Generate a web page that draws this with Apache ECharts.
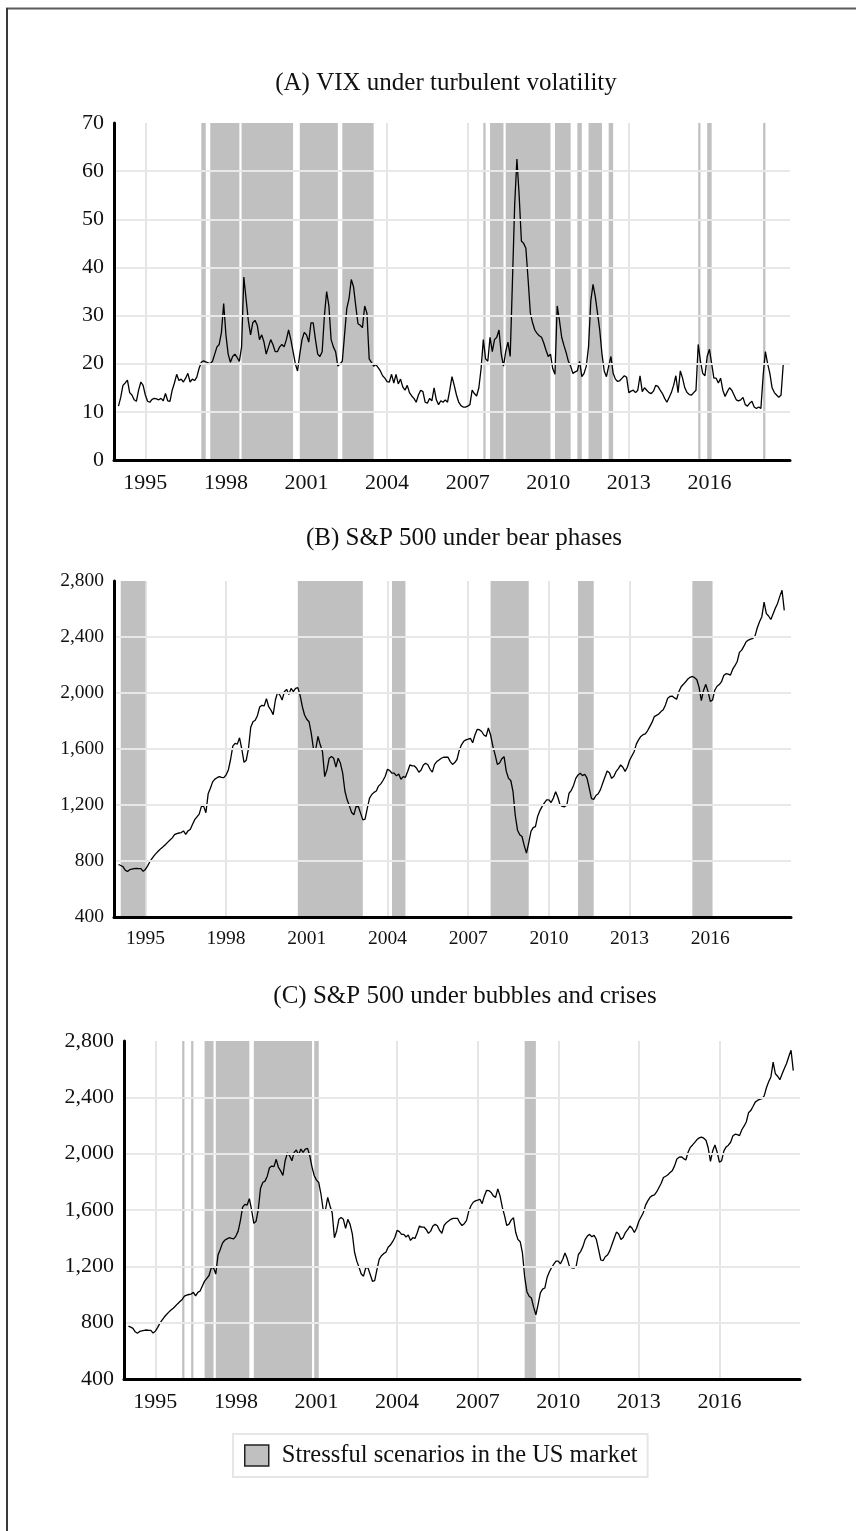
<!DOCTYPE html>
<html lang="en">
<head>
<meta charset="UTF-8">
<title>VIX and S&amp;P 500 under stressful scenarios</title>
<script src="https://cdn.jsdelivr.net/npm/echarts@6/dist/echarts.min.js"></script>
<style>
  html, body { margin: 0; padding: 0; background: #fff; }
  #chart { width: 856px; height: 1531px; }
</style>
</head>
<body>
<div id="chart"></div>
<script>
// x axis: one category per month, 1993-11 .. 2019-01
const months = [];
for (let y = 1993; y <= 2019; y++) {
  for (let m = 1; m <= 12; m++) {
    const key = y + '-' + (m < 10 ? '0' + m : m);
    if (key >= '1993-11' && key <= '2019-01') months.push(key);
  }
}
const firstMonth = '1994-01';
const yearTicks = [1995, 1998, 2001, 2004, 2007, 2010, 2013, 2016];

// monthly VIX, 1994-01 .. 2018-10
const vix = [
  11.2, 13.0, 15.5, 16.0, 16.6, 14.0, 13.5, 12.5, 12.2, 14.5, 16.2, 15.5,
  13.5, 12.2, 12.0, 12.6, 12.8, 12.7, 12.5, 12.8, 12.3, 13.8, 12.3, 12.2,
  14.5, 16.0, 17.8, 16.5, 16.8, 16.2, 17.0, 18.0, 16.2, 16.8, 16.5, 17.2,
  19.0, 20.3, 20.6, 20.4, 20.2, 20.0, 20.5, 22.0, 23.5, 24.0, 26.5, 32.5,
  26.0, 22.0, 20.3, 21.5, 22.0, 21.3, 20.5, 23.5, 38.0, 33.5, 29.0, 26.0,
  28.5, 29.0, 28.0, 25.0, 26.0, 24.5, 22.0, 23.5, 25.0, 24.0, 22.5, 22.5,
  23.5, 24.0, 23.5, 25.0, 27.0, 25.0, 22.5, 20.0, 18.5, 22.0, 25.0, 26.5,
  26.0, 24.5, 28.5, 28.5, 25.0, 22.0, 21.5, 22.5, 30.0, 35.0, 32.0, 25.0,
  23.5, 22.5, 19.5, 20.0, 20.5, 26.0, 31.5, 33.5, 37.5, 36.0, 32.0, 28.3,
  28.0, 27.5, 32.0, 30.5, 21.0, 20.3, 19.5, 19.8, 19.2, 18.5, 17.5, 17.0,
  16.3, 16.2, 17.8, 16.0, 17.8, 15.8, 16.8, 15.2, 14.5, 15.5, 14.0, 13.3,
  12.8, 12.0, 13.5, 14.5, 14.2, 12.0, 11.8, 12.8, 12.3, 15.0, 12.5, 11.5,
  12.3, 12.0, 12.5, 12.0, 14.5, 17.3, 15.5, 13.5, 12.0, 11.3, 11.0, 11.0,
  11.2, 11.5, 14.5, 13.8, 13.3, 15.0, 19.0, 25.0, 21.0, 20.5, 25.5, 22.5,
  25.0, 25.5, 27.0, 22.0, 19.5, 22.5, 24.5, 21.5, 37.0, 53.0, 62.5, 55.0,
  45.5, 45.0, 44.0, 37.5, 30.5, 28.5, 27.0, 26.3, 25.8, 25.5, 24.3, 22.8,
  21.5, 22.0, 19.0, 17.8, 32.0, 29.0, 25.5, 23.8, 22.3, 20.5, 19.5, 18.0,
  18.3, 18.5, 20.5, 17.3, 18.0, 19.5, 23.5, 33.0, 36.5, 34.0, 30.5, 27.0,
  22.0, 18.5, 17.3, 19.5, 21.5, 18.0, 16.8, 16.3, 16.5, 17.0, 17.5, 17.2,
  14.0, 14.3, 14.5, 14.0, 14.5, 17.5, 14.2, 15.0, 14.5, 14.0, 13.8, 14.3,
  15.5, 15.3, 14.5, 13.8, 12.8, 12.0, 13.0, 14.0, 15.5, 17.5, 14.0, 18.5,
  17.0, 15.0, 14.0, 13.6, 13.5, 14.0, 14.5, 24.0, 20.5, 18.0, 17.5, 21.5,
  23.0, 20.0, 17.0, 17.0, 16.0, 17.0, 14.5, 13.2, 14.2, 15.0, 14.5, 13.5,
  12.5, 12.3, 12.5, 13.0, 11.5, 11.2, 11.8, 12.2, 11.0, 10.7, 11.0, 10.7,
  17.5, 22.5, 20.0, 18.0, 15.0, 14.0, 13.5, 13.0, 13.5, 20.0
];

// monthly S&P 500, 1994-01 .. 2018-10
const sp500 = [
  775, 768, 760, 735, 725, 738, 742, 745, 748, 745, 745, 726,
  740, 765, 795, 818, 840, 858, 875, 890, 903, 918, 935, 950,
  965, 988, 996, 1000, 1003, 1015, 990, 1015, 1025, 1060, 1095, 1115,
  1135, 1190, 1190, 1145, 1280, 1320, 1365, 1385, 1395, 1403, 1398, 1395,
  1415, 1450, 1525, 1620, 1640, 1635, 1680, 1600, 1505, 1520, 1605, 1755,
  1795, 1805, 1840, 1900, 1912, 1908, 1960, 1902, 1878, 1845, 1950, 2005,
  1985, 1950, 2009, 2026, 1990, 2033, 2010, 2033, 2038, 1985, 1905, 1843,
  1812, 1795, 1712, 1598, 1600, 1690, 1630, 1581, 1403, 1451, 1534, 1546,
  1534, 1470, 1534, 1498, 1430, 1300, 1237, 1194, 1146, 1130, 1190, 1189,
  1142, 1094, 1099, 1177, 1249, 1275, 1290, 1300, 1335, 1351, 1375, 1405,
  1455, 1446, 1427, 1427, 1408, 1422, 1384, 1403, 1398, 1439, 1486, 1479,
  1479, 1462, 1434, 1450, 1486, 1498, 1488, 1455, 1435, 1490, 1510, 1522,
  1534, 1541, 1541, 1541, 1510, 1490, 1503, 1525, 1590, 1630, 1655, 1665,
  1670, 1676, 1645, 1700, 1740, 1738, 1725, 1700, 1690, 1750, 1700, 1620,
  1560, 1490, 1500, 1530, 1545, 1440, 1390, 1375, 1295, 1125, 1020, 987,
  975, 910, 856, 930, 1012, 1038, 1046, 1120, 1160, 1190, 1215, 1237,
  1237, 1218, 1250, 1295, 1255, 1200, 1190, 1187, 1200, 1284, 1305, 1340,
  1390, 1415, 1427, 1410, 1420, 1392, 1320, 1245, 1240, 1268, 1280, 1310,
  1355, 1400, 1443, 1430, 1390, 1405, 1440, 1460, 1486, 1470, 1440, 1470,
  1520, 1550, 1580, 1635, 1665, 1690, 1702, 1708, 1730, 1760, 1790, 1831,
  1840, 1850, 1867, 1880, 1915, 1962, 1975, 1978, 1965, 1955, 2010, 2045,
  2062, 2080, 2100, 2112, 2118, 2110, 2095, 2040, 1945, 2020, 2062, 2010,
  1940, 1950, 2020, 2048, 2060, 2081, 2125, 2138, 2135, 2128, 2170, 2195,
  2225, 2290, 2306, 2335, 2366, 2378, 2385, 2390, 2410, 2468, 2510, 2545,
  2650, 2567, 2550, 2525, 2565, 2605, 2640, 2690, 2734, 2590
];

// shaded stress periods [from, to] per panel
const stressVol = [
  ['1997-02', '1997-04'], ['1997-06', '1998-07'], ['1998-08', '2000-07'],
  ['2000-10', '2002-03'], ['2002-05', '2003-07'], ['2007-08', '2007-09'],
  ['2007-11', '2008-05'], ['2008-06', '2010-02'], ['2010-04', '2010-11'],
  ['2011-02', '2011-04'], ['2011-07', '2012-01'], ['2012-04', '2012-06'],
  ['2015-08', '2015-09'], ['2015-12', '2016-02'], ['2018-01', '2018-02']
];
const stressBear = [
  ['1994-02', '1995-01'], ['2000-09', '2003-02'], ['2004-03', '2004-09'],
  ['2007-11', '2009-04'], ['2011-02', '2011-09'], ['2015-05', '2016-02']
];
const stressBubble = [
  ['1996-01', '1996-02'], ['1996-05', '1996-06'], ['1996-11', '1997-03'],
  ['1997-04', '1998-07'], ['1998-09', '2000-11'], ['2000-12', '2001-02'],
  ['2008-10', '2009-03']
];

const titles = [
  '(A) VIX under turbulent volatility',
  '(B) S&P 500 under bear phases',
  '(C) S&P 500 under bubbles and crises'
];
const legendName = 'Stressful scenarios in the US market';

const FONT = 'Liberation Serif';
const TEXT = '#111';

const offset = months.indexOf(firstMonth);
function onMonths(arr) {
  return months.map((m, i) => (i >= offset && i - offset < arr.length) ? arr[i - offset] : null);
}
function isYearTick(i, v) {
  return v.slice(5) === '01' && yearTicks.indexOf(+v.slice(0, 4)) >= 0;
}

const panels = [
  { grid: { left: 114, top: 123, width: 676, height: 337 }, series: vix, bands: stressVol,
    min: 0, max: 70, step: 10, font: 22, fmt: v => String(v), title: [441, 66] },
  { grid: { left: 114, top: 581, width: 677, height: 336 }, series: sp500, bands: stressBear,
    min: 400, max: 2800, step: 400, font: 19.5, fmt: v => v.toLocaleString('en-US'), title: [459, 521] },
  { grid: { left: 124, top: 1041, width: 676, height: 338 }, series: sp500, bands: stressBubble,
    min: 400, max: 2800, step: 400, font: 22, fmt: v => v.toLocaleString('en-US'), title: [460, 979] }
];

const option = {
  backgroundColor: '#fff',
  animation: false,
  title: panels.map((p, i) => ({
    text: titles[i],
    left: p.title[0],
    top: p.title[1],
    textAlign: 'center',
    textStyle: { fontFamily: FONT, fontSize: 25, fontWeight: 'normal', color: TEXT }
  })),
  legend: {
    data: [legendName],
    left: 233,
    top: 1434,
    padding: [9, 10, 9, 11],
    borderColor: '#e6e6e6',
    borderWidth: 2,
    icon: 'rect',
    itemWidth: 24,
    itemHeight: 21,
    itemStyle: { color: '#c0c0c0', borderColor: '#222', borderWidth: 1.5 },
    textStyle: { fontFamily: FONT, fontSize: 24.5, color: TEXT, padding: [0, 0, 0, 8] }
  },
  grid: panels.map(p => p.grid),
  xAxis: panels.map((p, i) => ({
    type: 'category',
    gridIndex: i,
    data: months,
    boundaryGap: false,
    position: 'bottom',
    axisLine: { show: false },
    axisTick: { show: false },
    axisLabel: {
      interval: isYearTick,
      formatter: v => v.slice(0, 4),
      fontFamily: FONT, fontSize: p.font, color: TEXT, margin: 12
    },
    splitLine: { show: true, interval: isYearTick, lineStyle: { color: '#e5e5e5', width: 2 } }
  })).concat(panels.map((p, i) => ({
    // black baseline drawn above the shading
    type: 'category',
    gridIndex: i,
    data: months,
    boundaryGap: false,
    position: 'bottom',
    z: 10,
    axisLine: { show: true, lineStyle: { color: '#000', width: 3 } },
    axisTick: { show: false },
    axisLabel: { show: false },
    splitLine: { show: false }
  }))),
  yAxis: panels.map((p, i) => ({
    type: 'value',
    gridIndex: i,
    min: p.min,
    max: p.max,
    interval: p.step,
    z: 10,
    axisLine: { show: true, lineStyle: { color: '#000', width: 3 } },
    axisTick: { show: false },
    axisLabel: { fontFamily: FONT, fontSize: p.font, color: TEXT, margin: 10, formatter: p.fmt },
    splitLine: { show: true, showMaxLine: false, lineStyle: { color: '#e8e8e8', width: 2 } }
  })),
  series: [],
  graphic: [
    { type: 'line', shape: { x1: 6, y1: 8.5, x2: 856, y2: 8.5 }, style: { stroke: '#5a5a5a', lineWidth: 2 } },
    { type: 'line', shape: { x1: 7, y1: 8, x2: 7, y2: 1531 }, style: { stroke: '#3a3a3a', lineWidth: 2 } }
  ]
};

panels.forEach((p, i) => {
  option.series.push({
    name: legendName,
    type: 'line',
    xAxisIndex: i,
    yAxisIndex: i,
    data: [],
    z: 1,
    itemStyle: { color: '#c0c0c0' },
    markArea: {
      silent: true,
      itemStyle: { color: '#c0c0c0', opacity: 1 },
      data: p.bands.map(b => [{ xAxis: b[0] }, { xAxis: b[1] }])
    }
  });
  option.series.push({
    type: 'line',
    xAxisIndex: i,
    yAxisIndex: i,
    data: onMonths(p.series),
    showSymbol: false,
    symbol: 'none',
    z: 3,
    lineStyle: { color: '#000', width: 1.3 }
  });
});

const chart = echarts.init(document.getElementById('chart'));
chart.setOption(option);
</script>
</body>
</html>
